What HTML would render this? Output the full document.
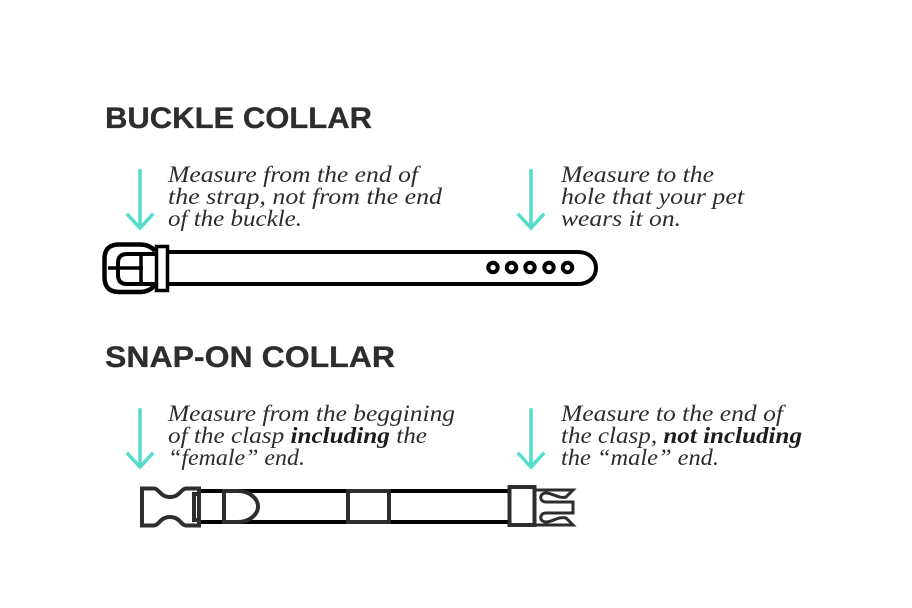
<!DOCTYPE html>
<html><head><meta charset="utf-8"><style>
html,body{margin:0;padding:0;background:#fff;width:912px;height:608px;overflow:hidden}
svg{display:block}
.h{font:bold 30px "Liberation Sans",sans-serif;fill:#2d2d2d;stroke:#2d2d2d;stroke-width:.3}
.t{font:italic 23px "Liberation Serif",serif;fill:#2d2d2d}
.t tspan.b{font-weight:bold;fill:#1c1c1c}
</style></head><body>
<svg width="912" height="608" viewBox="0 0 912 608" xmlns="http://www.w3.org/2000/svg">
<text class="h" x="105" y="128" textLength="267" lengthAdjust="spacingAndGlyphs">BUCKLE COLLAR</text>
<text class="h" x="105" y="367" textLength="290" lengthAdjust="spacingAndGlyphs">SNAP-ON COLLAR</text>

<g fill="none" stroke="#55dccb" stroke-width="3.500" stroke-linecap="square">
<path d="M140 171V227M128 215L140 228L152 215"/>
<path d="M531 171V227M519 215L531 228L543 215"/>
<path d="M140 410V466M128 454L140 467L152 454"/>
<path d="M531 410V466M519 454L531 467L543 454"/>
</g>

<text class="t" x="168" y="182" textLength="250" lengthAdjust="spacingAndGlyphs">Measure from the end of</text>
<text class="t" x="168" y="204" textLength="274" lengthAdjust="spacingAndGlyphs">the strap, not from the end</text>
<text class="t" x="168" y="226" textLength="134" lengthAdjust="spacingAndGlyphs">of the buckle.</text>
<text class="t" x="561" y="182" textLength="153" lengthAdjust="spacingAndGlyphs">Measure to the</text>
<text class="t" x="561" y="204" textLength="183" lengthAdjust="spacingAndGlyphs">hole that your pet</text>
<text class="t" x="561" y="226" textLength="120" lengthAdjust="spacingAndGlyphs">wears it on.</text>

<text class="t" x="168" y="421" textLength="287" lengthAdjust="spacingAndGlyphs">Measure from the beggining</text>
<text class="t" x="168" y="443" textLength="259" lengthAdjust="spacingAndGlyphs">of the clasp <tspan class="b">including</tspan> the</text>
<text class="t" x="168" y="465" textLength="137" lengthAdjust="spacingAndGlyphs">“female” end.</text>
<text class="t" x="561" y="421" textLength="222" lengthAdjust="spacingAndGlyphs">Measure to the end of</text>
<text class="t" x="561" y="443" textLength="241" lengthAdjust="spacingAndGlyphs">the clasp, <tspan class="b">not including</tspan></text>
<text class="t" x="561" y="465" textLength="158" lengthAdjust="spacingAndGlyphs">the “male” end.</text>

<!-- buckle collar -->
<g fill="none" stroke="#000" stroke-width="4">
<path d="M168 252H578C589 252 596 259 596 268C596 277 589 284 578 284H168"/>
<path d="M155 251C151 246 146 244.500 140 244.500H119Q104.500 244.500 104.500 259V277Q104.500 292 119 292H140C146 292 151 290 155 285" stroke-width="4.500"/>
<path d="M155 254H127Q118 254 118 263V275Q118 284 127 284H155"/>
<path d="M108 268H143M141 254V284" stroke-width="3.500"/>
<rect x="156.500" y="246.500" width="11" height="44" stroke-width="3.500"/>
<g stroke-width="4">
<circle cx="493" cy="267.500" r="4.700"/><circle cx="511.500" cy="267.500" r="4.700"/><circle cx="530" cy="267.500" r="4.700"/><circle cx="549" cy="267.500" r="4.700"/><circle cx="567.500" cy="267.500" r="4.700"/>
</g>
</g>

<!-- snap collar -->
<g fill="none" stroke="#000" stroke-width="4">
<path d="M199 491H510M199 522H510"/>
</g>
<g fill="none" stroke="#2d2d2d" stroke-width="4">
<path d="M142 488.500H154C159 488.500 160 497 170 497C180 497 181 488.500 186 488.500H199V525.500H186C181 525.500 180 517 170 517C160 517 159 525.500 154 525.500H142Z"/>
<path d="M199 494H194V520H199"/>
<path d="M224 491V522H238C250 522 258 514 258 506.500C258 499 250 491 238 491Z"/>
<rect x="348" y="491" width="41" height="31"/>
<rect x="509.500" y="487" width="25" height="38"/>
<path d="M535 490H573L566 497C559 499 552 493 546 493C539 493 539 502 546 502H573V513H546C539 513 539 522 546 522C552 522 559 516 566 518L573 525H535" stroke-width="3"/>
</g>
</svg>
</body></html>
